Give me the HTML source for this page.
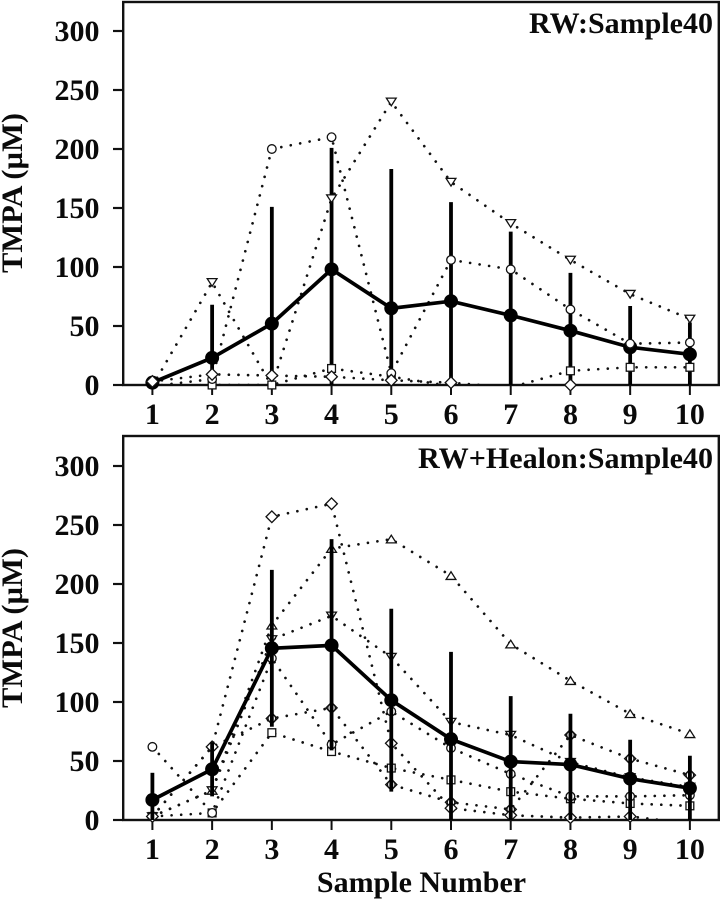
<!DOCTYPE html>
<html lang="en">
<head>
<meta charset="utf-8">
<title>TMPA by Sample Number</title>
<style>
html,body{margin:0;padding:0;background:#fff;}
svg{display:block;}
text{font-family:"Liberation Serif","DejaVu Serif",serif;font-weight:bold;fill:#0a0a0a;font-size:30px;}
</style>
</head>
<body>
<svg id="chart" xmlns="http://www.w3.org/2000/svg" width="722" height="900" viewBox="0 0 722 900"></svg>
<script>
var categories = [1, 2, 3, 4, 5, 6, 7, 8, 9, 10];
var yTickLabels = [0, 50, 100, 150, 200, 250, 300];

var topTitle = "RW:Sample40";
var topMean = [2, 23, 52, 98, 65, 71, 59, 46, 32, 26];
var topErrHigh = [4, 68, 151, 201, 183, 155, 130, 95, 67, 53];
var topErrLow = [0, 0, 0, 0, 0, 0, 0, 0, 0, 0];
var topSquare = [-1, 0, 0, 14, 7, -1, -2, 12, 15, 15];
var topCircle = [-1, 5, 200, 210, 10, 106, 98, 64, 35, 36];
var topTriangleDown = [-1, 87, -1, 158, 240, 172, 137, 106, 77, 56];
var topDiamond = [3, 9, 8, 7, 4, 2, -2, 0, -5, -5];

var bottomTitle = "RW+Healon:Sample40";
var bottomMean = [17, 43, 145.5, 148, 101.5, 68.5, 49.5, 47, 35, 27];
var bottomErrHigh = [40, 66, 212, 238, 179, 142.5, 105, 90, 68, 54.5];
var bottomErrLow = [0, 20, 79, 59, 24, 0, 0, 0, 0, 0];
var bottomTriangleUp = [3, 25, 165, 230, 238, 207, 149, 118, 90, 73];
var bottomTriangleDown = [3, 25, 153, 173, 138, 83, 72, 49, 36, 28];
var bottomSquare = [3, 6, 74, 58, 44, 34, 24, 18, 14, 12];
var bottomCircle = [62, 6, 137, 64, 92, 61, 39, 20, 20, 21];
var bottomCombo = [3, 62, 86, 95, 30, 15, 9, 72, 52, 38];
var bottomDiamond = [3, 62, 257, 268, 65, 10, 4, 2, 3, -3];

var svg = document.getElementById('chart');
var NS = 'http://www.w3.org/2000/svg';

function make(tag, attrs, parent) {
  var e = document.createElementNS(NS, tag);
  for (var k in attrs) { e.setAttribute(k, attrs[k]); }
  (parent || svg).appendChild(e);
  return e;
}

function xScale(c) { return 152.4 + (c - 1) * 59.72; }

function drawMarker(kind, cx, cy, parent) {
  var style = { fill: '#fff', stroke: '#111', 'stroke-width': 1.3 };
  var m = make('g', {}, parent);
  
  
  function shape(tag, a) {
    for (var s in style) { a[s] = style[s]; }
    return make(tag, a, m);
  }
  function diamondPts(r) {
    return [cx, cy - r, cx + r, cy, cx, cy + r, cx - r, cy].join(',');
  }
  if (kind === 'circle') {
    shape('circle', { cx: cx, cy: cy, r: 4.3 });
  } else if (kind === 'square') {
    shape('rect', { x: cx - 3.9, y: cy - 3.9, width: 7.8, height: 7.8 });
  } else if (kind === 'diamond') {
    shape('polygon', { points: diamondPts(5.8) });
  } else if (kind === 'triangle-down') {
    shape('polygon', { points: [cx - 4.9, cy - 3.7, cx + 4.9, cy - 3.7, cx, cy + 4].join(',') });
  } else if (kind === 'triangle-up') {
    shape('polygon', { points: [cx - 4.9, cy + 3.7, cx + 4.9, cy + 3.7, cx, cy - 4].join(',') });
  } else if (kind === 'combo') {
    shape('polygon', { points: diamondPts(5.6) });
    shape('circle', { cx: cx, cy: cy, r: 3.8 });
  }
}

function drawPanel(p) {
  function yScale(v) { return p.y0 - v * 1.18; }
  var g = make('g', {});
  
  

  var clipId = p.name + '-clip';
  var defs = make('defs', {}, g);
  var clip = make('clipPath', { id: clipId }, defs);
  make('rect', { x: 123, y: p.top, width: 596, height: p.y0 - p.top + 1 }, clip);

  // x ticks
  categories.forEach(function (c) {
    var t = make('line', { x1: xScale(c), x2: xScale(c), y1: p.y0, y2: p.y0 + 10, stroke: '#111', 'stroke-width': 2 }, g);
    
    
    var l = make('text', { x: xScale(c), y: p.y0 + 39, 'text-anchor': 'middle' }, g);
    
    
    l.textContent = c;
  });

  // y ticks
  yTickLabels.forEach(function (v) {
    var t = make('line', { x1: 113, x2: 123, y1: yScale(v), y2: yScale(v), stroke: '#111', 'stroke-width': 2.2 }, g);
    
    
    var l = make('text', { x: 99.5, y: yScale(v) + 10, 'text-anchor': 'end' }, g);
    
    
    l.textContent = v;
  });

  // frame
  var frame = make('rect', { x: 123.2, y: p.top, width: 595.6, height: p.y0 - p.top, fill: 'none', stroke: '#111', 'stroke-width': 2.4 }, g);
  
  

  // dotted series lines
  p.series.forEach(function (s) {
    var pts = s.values.map(function (v, i) { return xScale(categories[i]) + ',' + yScale(v); }).join(' ');
    var line = make('polyline', { points: pts, fill: 'none', stroke: '#111', 'stroke-width': 2.7, 'stroke-linecap': 'round', 'stroke-dasharray': '0.01 9.6', 'clip-path': 'url(#' + clipId + ')' }, g);
    
    
  });

  function markers() {
    p.series.forEach(function (s) {
      s.values.forEach(function (v, i) {
        if (v >= 0) { drawMarker(s.kind, xScale(categories[i]), yScale(v), g); }
      });
    });
  }
  function meanAndErrors() {
    categories.forEach(function (c, i) {
      var bar = make('line', { x1: xScale(c), x2: xScale(c), y1: yScale(p.errHigh[i]), y2: yScale(p.errLow[i]), stroke: '#000', 'stroke-width': 3.8 }, g);
      
      
    });
    var pts = p.mean.map(function (v, i) { return xScale(categories[i]) + ',' + yScale(v); }).join(' ');
    var ml = make('polyline', { points: pts, fill: 'none', stroke: '#000', 'stroke-width': 3.7 }, g);
    
    
    p.mean.forEach(function (v, i) {
      var pt = make('circle', { cx: xScale(categories[i]), cy: yScale(v), r: 7, fill: '#000' }, g);
      
      
    });
  }
  if (p.markersOnTop) { meanAndErrors(); markers(); } else { markers(); meanAndErrors(); }

  // panel title
  var title = make('text', { x: 713, y: p.titleY, 'text-anchor': 'end' }, g);
  
  
  title.textContent = p.title;
  if (p.titleWidth) {
    title.setAttribute('textLength', p.titleWidth);
    title.setAttribute('lengthAdjust', 'spacingAndGlyphs');
  }

  // y axis title
  var yt = make('text', { transform: 'translate(22,' + p.yTitleY + ') rotate(-90)', x: 0, y: 0, 'text-anchor': 'middle', textLength: 160, lengthAdjust: 'spacingAndGlyphs' }, g);
  
  
  yt.textContent = 'TMPA (\u00B5M)';
}

drawPanel({
  name: 'panel-rw', y0: 385, top: 2, title: topTitle, titleY: 33, yTitleY: 193,
  mean: topMean, errHigh: topErrHigh, errLow: topErrLow, markersOnTop: true,
  series: [
    { kind: 'square', values: topSquare },
    { kind: 'circle', values: topCircle },
    { kind: 'triangle-down', values: topTriangleDown },
    { kind: 'diamond', values: topDiamond }
  ]
});

drawPanel({
  name: 'panel-rw-healon', y0: 820, top: 436, title: bottomTitle, titleY: 468, yTitleY: 628, titleWidth: 295,
  mean: bottomMean, errHigh: bottomErrHigh, errLow: bottomErrLow, markersOnTop: false,
  series: [
    { kind: 'triangle-up', values: bottomTriangleUp },
    { kind: 'triangle-down', values: bottomTriangleDown },
    { kind: 'square', values: bottomSquare },
    { kind: 'circle', values: bottomCircle },
    { kind: 'combo', values: bottomCombo },
    { kind: 'diamond', values: bottomDiamond }
  ]
});

var xTitle = make('text', { x: 421.5, y: 892, 'text-anchor': 'middle' });


xTitle.textContent = 'Sample Number';
</script>
</body>
</html>
